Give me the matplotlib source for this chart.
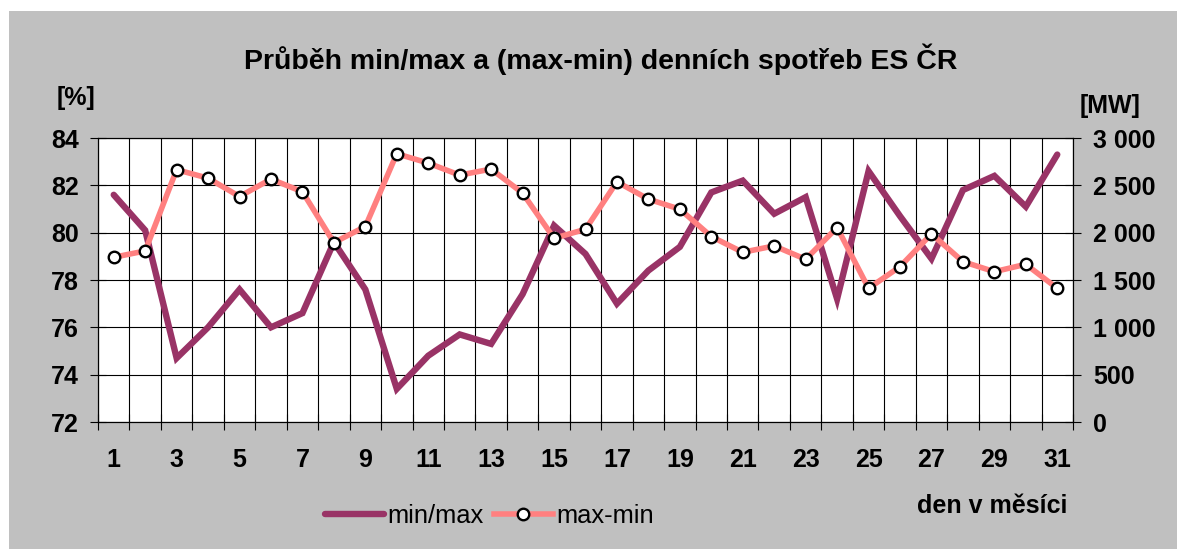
import matplotlib.pyplot as plt
import numpy as np
from matplotlib.patches import Rectangle
from matplotlib.ticker import FuncFormatter

plt.rcParams['font.family'] = ['Liberation Sans', 'DejaVu Sans']

# den v mesici
days = list(range(1, 32))
# min/max [%]
min_max = [81.6, 80.1, 74.7, 76.0, 77.6, 76.0, 76.6, 79.6, 77.6, 73.4,
           74.8, 75.7, 75.3, 77.4, 80.3, 79.1, 77.0, 78.4, 79.4, 81.7,
           82.2, 80.8, 81.5, 77.2, 82.6, 80.7, 78.9, 81.8, 82.4, 81.1, 83.3]
# max-min [MW]
max_min = [1740, 1807, 2665, 2576, 2382, 2566, 2432, 1895, 2065, 2834,
           2735, 2608, 2672, 2418, 1941, 2036, 2537, 2354, 2248, 1959,
           1793, 1860, 1719, 2054, 1412, 1641, 1987, 1694, 1588, 1666, 1412]

W, H = 1177, 549
fig = plt.figure(figsize=(W / 100, H / 100), dpi=100)
fig.patch.set_facecolor('white')
fig.add_artist(Rectangle((9 / W, 0), 1 - 9 / W, 1 - 11 / H, transform=fig.transFigure,
                         facecolor='#c0c0c0', edgecolor='none', zorder=-10))

ax = fig.add_axes([98 / W, 1 - 422 / H, 975 / W, 284 / H])
ax.set_facecolor('white')

ax.plot(days, min_max, color='#993366', lw=4.6, solid_capstyle='round',
        solid_joinstyle='miter', label='min/max', zorder=3)
ax.set_ylim(72, 84)
ax.set_yticks(np.arange(72, 85, 2))
ax.set_xlim(0.5, 31.5)

# hranice kategorii + mrizka
ax.set_xticks(np.arange(0.5, 32, 1))
ax.set_xticklabels([])
ax.set_xticks(days[::2], minor=True)
ax.set_xticklabels([str(d) for d in days[::2]], minor=True)
ax.tick_params(axis='x', which='major', direction='inout', length=11.5, width=0.8, color='black')
ax.tick_params(axis='x', which='minor', length=0, pad=19, labelsize=18)
ax.tick_params(axis='y', direction='inout', length=11.5, width=0.8, pad=8, labelsize=18)
for lab in ax.get_xticklabels(minor=True) + ax.get_yticklabels():
    lab.set_fontweight('bold')
ax.grid(True, which='major', color='black', lw=0.8)
ax.set_axisbelow(True)
for sp in ax.spines.values():
    sp.set_color('black')
    sp.set_linewidth(0.8)

ax2 = ax.twinx()
ax2.plot(days, max_min, color='#ff8080', lw=4.0, marker='o', markersize=8.3,
         markerfacecolor='white', markeredgecolor='black', markeredgewidth=1.7,
         label='max-min', zorder=4)
ax2.set_ylim(0, 3000)
ax2.set_yticks(np.arange(0, 3001, 500))
ax2.yaxis.set_major_formatter(FuncFormatter(lambda v, p: f"{int(v):,}".replace(",", " ")))
ax2.tick_params(axis='y', direction='inout', length=11.5, width=0.8, pad=9, labelsize=18)
for lab in ax2.get_yticklabels():
    lab.set_fontweight('bold')
for sp in ax2.spines.values():
    sp.set_color('black')
    sp.set_linewidth(0.8)

fig.text(601 / W, 1 - 69 / H, "Průběh min/max a (max-min) denních spotřeb ES ČR",
         ha='center', va='baseline', fontsize=20.5, fontweight='bold')
fig.text(57 / W, 1 - 98 / H, "[%]", ha='left', va='center', fontsize=18, fontweight='bold')
fig.text(1080 / W, 1 - 106 / H, "[MW]", ha='left', va='center', fontsize=18, fontweight='bold')
fig.text(917 / W, 1 - 513 / H, "den v měsíci", ha='left', va='baseline',
         fontsize=18, fontweight='bold')

h1, l1 = ax.get_legend_handles_labels()
h2, l2 = ax2.get_legend_handles_labels()
fig.legend(h1 + h2, l1 + l2, loc='center left', bbox_to_anchor=(325 / W, 1 - 516 / H),
           ncol=2, frameon=False, fontsize=18.4, handlelength=2.3, handletextpad=0.15,
           columnspacing=0.4, borderpad=0, borderaxespad=0)

fig.savefig('out.png', dpi=100)
